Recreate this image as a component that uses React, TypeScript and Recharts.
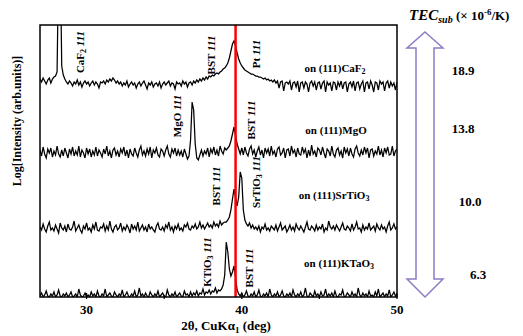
import { LineChart, Line, XAxis, YAxis, ReferenceLine } from "recharts";

// 2theta grid: 27.0 .. 50.0 deg, 0.1 deg steps
const START = 27.0;
const STEP = 0.1;

const SAMPLES = ["CaF2", "MgO", "SrTiO3", "KTaO3"];
// vertical stacking offsets of each pattern (plot units)
const OFFSETS = [217, 145, 67, 0];
const TEC_VALUES = ["18.9", "13.8", "10.0", "6.3"];
const X_TICKS = [30, 35, 40, 45, 50];
const X_LABELS = [30, 40, 50];
const BST_111 = 39.6;

// intensities above each baseline
const CAF2 = [
  1, -2, 2, -1, -4, 0, 2, -3, 1, 3,
  4, 8, 120, 130, 14, 5, 1, -2, -4, -1,
  -3, -6, -2, -4, 0, -5, -2, -7, -3, -1,
  -4, -2, -6, -3, -1, -5, -2, -4, -8, -2,
  -3, -1, -4, 0, -2, 1, -1, 2, 0, -3,
  -1, -4, -2, -6, -3, -5, -1, -7, -4, -2,
  -5, -3, -8, -4, -2, -6, -3, -1, -5, -9,
  -3, -5, -2, -7, -4, -3, -6, -2, -8, -4,
  -2, -5, -3, -1, -6, -3, -4, -9, -2, -4,
  -3, -6, -1, -4, -2, -7, -3, -2, -5, -1,
  -3, 0, -2, 1, -1, 2, 0, 3, 1, 4,
  3, 5, 4, 6, 7, 6, 8, 9, 11, 12,
  14, 17, 22, 29, 36, 39, 34, 27, 21, 17,
  14, 12, 10, 9, 8, 7, 6, 6, 5, 4,
  4, 3, 3, 2, 1, 2, 0, 1, -1, 0,
  -2, 0, -3, -1, -8, -2, -1, -11, -3, -2,
  -4, -1, -10, -3, -2, -7, -1, -12, -3, -2,
  -8, -2, -4, -12, -3, -1, -6, -2, -10, -3,
  -2, -9, -3, -1, -12, -2, -5, -3, -11, -2,
  -3, -10, -2, -6, -1, -9, -3, -2, -12, -4,
  -2, -7, -1, -11, -3, -2, -9, -4, -1, -12,
  -3, -2, -9, -1, -5, -12, -2, -3, -10, -1,
  -4, -2, -11, -3, -1, -8, -2, -6, -3, -10, -2,
];

const MGO = [
  2, -4, 5, -2, -6, 3, -1, 4, -5, 1,
  -3, 6, -2, -5, 2, -4, 4, -1, -6, 3,
  -2, 5, -4, 1, -3, 6, -5, 2, -1, -6,
  4, -2, 3, -5, 1, -3, 5, -4, 2, -1,
  -5, 3, -2, 6, -4, 1, -6, 2, 4, -3,
  1, -5, 3, -1, 5, -4, 2, -6, 3, -2,
  -4, 4, -1, -5, 2, 6, -3, 1, -4, 3,
  -2, 5, -6, 2, -1, 4, -3, -5, 3, 1,
  -4, 2, 6, -2, -5, 3, -1, 4, -4, 2,
  -3, 1, -5, 3, -2, -7, -4, 12, 50, 42,
  8, -6, -8, -3, 2, -4, 1, -2, 4, -5,
  3, -1, 5, -3, 2, -4, 6, 1, -2, 4,
  2, 4, 6, 11, 18, 25, 16, 8, 3, -2,
  4, -3, 5, -1, -4, 3, 6, -2, 2, -5,
  1, 5, -3, 2, -6, 4, -1, 3, -4, 6,
  -2, 1, -5, 3, 5, -3, -1, 4, -6, 2,
  3, -4, 6, -1, 2, -5, 4, -2, -3, 5,
  -1, 3, -6, 2, -4, 7, -2, 1, -5, 4,
  2, -3, 5, -1, -6, 3, 1, -4, 6, -2,
  -5, 2, 4, -3, 1, -6, 5, -1, 3, -4,
  4, -2, -5, 3, 6, -1, -4, 2, -3, 5,
  -1, 4, -6, 2, 3, -4, 1, -2, 6, -3,
  2, -5, 4, -1, 5, -3, -2, 6, -4, 1, 3,
];

const SRTIO3 = [
  3, 0, 6, 1, -2, 4, 8, 0, 2, -1,
  5, 1, -3, 7, 2, 0, 4, -2, 6, 1,
  0, 3, 9, -1, 2, 5, 0, -3, 4, 1,
  7, 0, 2, -2, 5, 1, 8, 0, -1, 3,
  2, 6, -1, 4, 0, 9, 1, -2, 3, 5,
  0, 2, 7, -1, 3, 0, 5, 2, -3, 6,
  1, 4, 0, 8, -1, 2, 5, 0, 3, -2,
  6, 1, 3, 0, -2, 4, 7, 1, 0, 3,
  -1, 5, 2, 8, 0, 3, -2, 4, 1, 6,
  0, 2, -1, 5, 3, 7, 1, 0, 4, 2,
  6, 1, 3, 8, 2, 5, 1, 4, 7, 3,
  5, 2, 8, 4, 6, 3, 9, 5, 7, 8,
  8, 10, 13, 20, 31, 41, 32, 24, 33, 58,
  52, 20, 10, 6, 4, 7, 2, 5, 1, 3,
  0, 4, -2, 3, 1, 6, 0, 2, -1, 4,
  2, 0, 5, -1, 3, 7, 0, 2, 4, -2,
  1, 5, 0, 3, -1, 6, 2, 0, 4, 1,
  -2, 3, 8, 1, 0, 4, 2, -1, 5, 0,
  3, 1, 6, -2, 2, 0, 9, 3, 1, 4,
  0, 5, 2, -1, 3, 7, 1, 0, 4, 2,
  -1, 6, 0, 3, 8, 1, 2, -2, 5, 0,
  3, 1, 7, 0, 2, 4, -1, 6, 2, 0,
  5, 1, 3, -2, 4, 8, 0, 2, 6, 1, 3,
];

const KTAO3 = [
  1, 4, 0, 2, 6, 1, 0, 3, 1, 5,
  0, 2, 7, 1, 0, 3, 1, 4, 0, 2,
  5, 0, 1, 3, 0, 8, 2, 0, 1, 4,
  0, 2, 0, 5, 1, 3, 0, 6, 1, 0,
  3, 1, 8, 0, 2, 4, 1, 0, 5, 2,
  0, 3, 1, 7, 0, 2, 5, 1, 0, 3,
  1, 6, 0, 2, 9, 1, 3, 0, 4, 1,
  0, 5, 2, 0, 3, 1, 6, 0, 2, 4,
  1, 0, 7, 2, 0, 3, 1, 5, 0, 2,
  4, 1, 0, 6, 2, 3, 0, 5, 1, 4,
  2, 6, 1, 4, 3, 8, 2, 5, 4, 7,
  3, 6, 5, 9, 4, 7, 6, 8, 12, 22,
  55, 45, 28, 21, 25, 31, 19, 7, 3, 1,
  4, 0, 2, 6, 1, 0, 3, 1, 5, 0,
  2, 7, 1, 0, 3, 1, 4, 0, 8, 2,
  0, 3, 1, 5, 0, 2, 6, 1, 0, 3,
  1, 4, 0, 7, 2, 0, 3, 1, 5, 0,
  2, 9, 1, 0, 4, 2, 0, 6, 1, 3,
  0, 5, 1, 2, 8, 0, 3, 1, 4, 0,
  6, 1, 0, 3, 2, 7, 0, 1, 4, 2,
  0, 5, 1, 3, 0, 9, 2, 0, 4, 1,
  3, 0, 6, 1, 2, 0, 5, 1, 8, 0,
  2, 4, 0, 3, 1, 7, 0, 2, 5, 1, 3,
];

const SERIES = [CAF2, MGO, SRTIO3, KTAO3];

const data = CAF2.map((_, i) => {
  const row: any = { x: +(START + i * STEP).toFixed(1) };
  SAMPLES.forEach((s, k) => {
    row[s] = OFFSETS[k] + SERIES[k][i];
  });
  return row;
});

const FONT = "'Liberation Serif', 'Times New Roman', serif";
const ARROW = "#8e7cc3";

function XTick({ x, y, payload }: any) {
  const major = X_LABELS.includes(payload.value);
  return (
    <g>
      <line x1={x} x2={x} y1={y} y2={y - (major ? 6 : 4)} stroke="#000" strokeWidth={1.2} />
      {major && (
        <text x={x} y={y + 15} textAnchor="middle" fontFamily={FONT} fontWeight="bold" fontSize={13} fill="#000">
          {payload.value}
        </text>
      )}
    </g>
  );
}

// vertical peak label, e.g. "BST 111"
function PeakLabel({ x, y, name, sub }: { x: number; y: number; name: string; sub?: string }) {
  return (
    <text
      x={x}
      y={y}
      transform={`rotate(-90 ${x} ${y})`}
      textAnchor="middle"
      dominantBaseline="central"
      fontFamily={FONT}
      fontWeight="bold"
      fontSize={11}
      fill="#000"
    >
      {name}
      {sub && (
        <tspan dy={3} fontSize={8}>
          {sub}
        </tspan>
      )}
      <tspan dy={sub ? -3 : 0} fontStyle="italic">
        {" 111"}
      </tspan>
    </text>
  );
}

function Substrate({ x, y, name, sub }: { x: number; y: number; name: string; sub: string }) {
  return (
    <text x={x} y={y} textAnchor="middle" dominantBaseline="central" fontFamily={FONT} fontWeight="bold" fontSize={11} fill="#000">
      on (111){name}
      <tspan dy={3} fontSize={8}>
        {sub}
      </tspan>
    </text>
  );
}

export default function App() {
  return (
    <div style={{ position: "absolute", left: 0, top: 0, width: 523, height: 336, background: "#fff" }}>
      <LineChart width={523} height={336} data={data} margin={{ top: 25, right: 126, bottom: 9, left: 40 }}>
        <XAxis
          dataKey="x"
          type="number"
          domain={[27, 50]}
          ticks={X_TICKS}
          interval={0}
          tick={<XTick />}
          tickLine={false}
          axisLine={false}
          tickSize={0}
          height={30}
          allowDataOverflow
        />
        <YAxis hide domain={[0, 272]} allowDataOverflow />
        {SAMPLES.map((s) => (
          <Line key={s} dataKey={s} type="linear" stroke="#000" strokeWidth={1.25} dot={false} isAnimationActive={false} />
        ))}
        <ReferenceLine x={BST_111} stroke="#ff0000" strokeWidth={2.5} />
      </LineChart>

      <svg width={523} height={336} style={{ position: "absolute", left: 0, top: 0, pointerEvents: "none" }}>
        <rect x={40} y={25} width={357} height={272} fill="none" stroke="#000" strokeWidth={1.5} />

        <PeakLabel x={80} y={52} name="CaF" sub="2" />
        <PeakLabel x={211} y={55} name="BST" />
        <PeakLabel x={256} y={54} name="Pt" />
        <PeakLabel x={177} y={116} name="MgO" />
        <PeakLabel x={251} y={120} name="BST" />
        <PeakLabel x={216} y={186} name="BST" />
        <PeakLabel x={256} y={182} name="SrTiO" sub="3" />
        <PeakLabel x={207} y={262} name="KTiO" sub="3" />
        <PeakLabel x={249} y={268} name="BST" />

        <Substrate x={335} y={68} name="CaF" sub="2" />
        <Substrate x={336} y={130} name="MgO" sub="" />
        <Substrate x={334} y={195} name="SrTiO" sub="3" />
        <Substrate x={339} y={263} name="KTaO" sub="3" />

        <text x={17} y={121} transform="rotate(-90 17 121)" textAnchor="middle" dominantBaseline="central" fontFamily={FONT} fontWeight="bold" fontSize={12}>
          Log[Intensity (arb.units)]
        </text>
        <text x={226} y={330} textAnchor="middle" fontFamily={FONT} fontWeight="bold" fontSize={13}>
          2θ, CuKα
          <tspan dy={3} fontSize={9}>1</tspan>
          <tspan dy={-3}> (deg)</tspan>
        </text>

        <text x={409} y={20} fontFamily={FONT} fontWeight="bold" fontSize={15}>
          <tspan fontStyle="italic">TEC</tspan>
          <tspan fontStyle="italic" fontSize={10} dy={3}>sub</tspan>
          <tspan fontSize={13} dy={-3}> (× 10</tspan>
          <tspan fontSize={9} dy={-5}>-6</tspan>
          <tspan fontSize={13} dy={5}>/K)</tspan>
        </text>

        <polygon
          points="425,32 443,48 434,48 434,279 443,279 425,297 407,279 416,279 416,48 407,48"
          fill="#fff"
          stroke={ARROW}
          strokeWidth={1.5}
        />

        <text x={463} y={75} textAnchor="middle" fontFamily={FONT} fontWeight="bold" fontSize={13}>{TEC_VALUES[0]}</text>
        <text x={463} y={133} textAnchor="middle" fontFamily={FONT} fontWeight="bold" fontSize={13}>{TEC_VALUES[1]}</text>
        <text x={470} y={206} textAnchor="middle" fontFamily={FONT} fontWeight="bold" fontSize={13}>{TEC_VALUES[2]}</text>
        <text x={478} y={279} textAnchor="middle" fontFamily={FONT} fontWeight="bold" fontSize={13}>{TEC_VALUES[3]}</text>
      </svg>
    </div>
  );
}
